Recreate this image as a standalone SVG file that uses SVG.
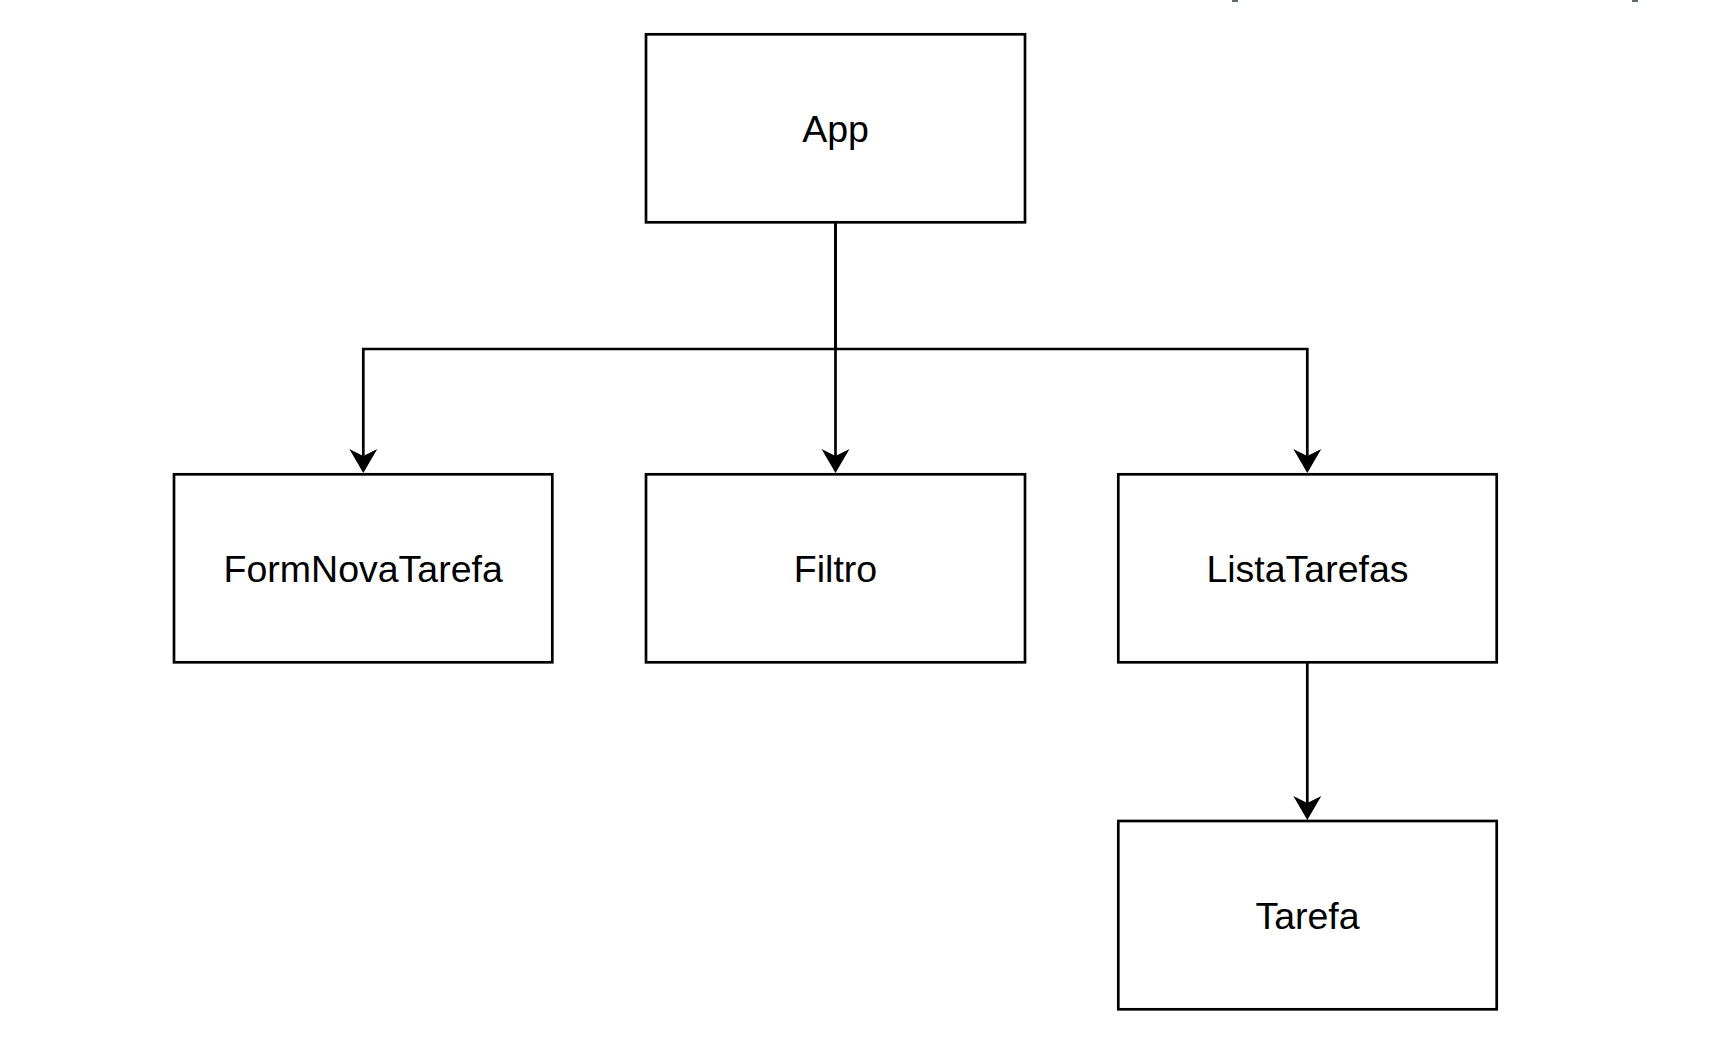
<svg xmlns="http://www.w3.org/2000/svg" width="1720" height="1040" viewBox="0 0 1720 1040">
  <style>
    .box { fill: #ffffff; stroke: #000000; stroke-width: 2.7; }
    .lbl { font-family: "Liberation Sans", Arial, Helvetica, sans-serif; font-size: 37.5px; fill: #000000; text-anchor: middle; }
    .edge { fill: none; stroke: #000000; stroke-width: 2.7; }
    .mark { fill: #5f6b75; }
  </style>
  <defs>
    <marker id="arrow" markerUnits="userSpaceOnUse" viewBox="0 -15 26 30" refX="7" refY="0" markerWidth="26" markerHeight="30" orient="auto">
      <path d="M24,0 L0,-14 L7,0 L0,14 Z" fill="#000000"/>
    </marker>
  </defs>
  <rect x="0" y="0" width="1720" height="1040" fill="#ffffff"/>
  <rect class="mark" x="1232" y="0" width="6" height="2"/>
  <rect class="mark" x="1632" y="0" width="6" height="2"/>

  <g id="connectors">
    <path class="edge" d="M835.5,222 L835.5,349 L363.3,349 L363.3,456" marker-end="url(#arrow)"/>
    <path class="edge" d="M835.5,222 L835.5,456" marker-end="url(#arrow)"/>
    <path class="edge" d="M835.5,349 L1307.3,349 L1307.3,456" marker-end="url(#arrow)"/>
    <path class="edge" d="M1307.3,662 L1307.3,803" marker-end="url(#arrow)"/>
  </g>

  <g id="node-app">
    <rect class="box" x="646" y="34.3" width="379" height="188"/>
    <text class="lbl" x="835.5" y="142">App</text>
  </g>
  <g id="node-formnovatarefa">
    <rect class="box" x="174" y="474.3" width="378.3" height="188"/>
    <text class="lbl" x="363.2" y="582">FormNovaTarefa</text>
  </g>
  <g id="node-filtro">
    <rect class="box" x="646" y="474.3" width="379" height="188"/>
    <text class="lbl" x="835.5" y="582">Filtro</text>
  </g>
  <g id="node-listatarefas">
    <rect class="box" x="1118.3" y="474.3" width="378.4" height="188"/>
    <text class="lbl" x="1307.5" y="582">ListaTarefas</text>
  </g>
  <g id="node-tarefa">
    <rect class="box" x="1118.3" y="821" width="378.4" height="188.3"/>
    <text class="lbl" x="1307.5" y="929">Tarefa</text>
  </g>
</svg>
